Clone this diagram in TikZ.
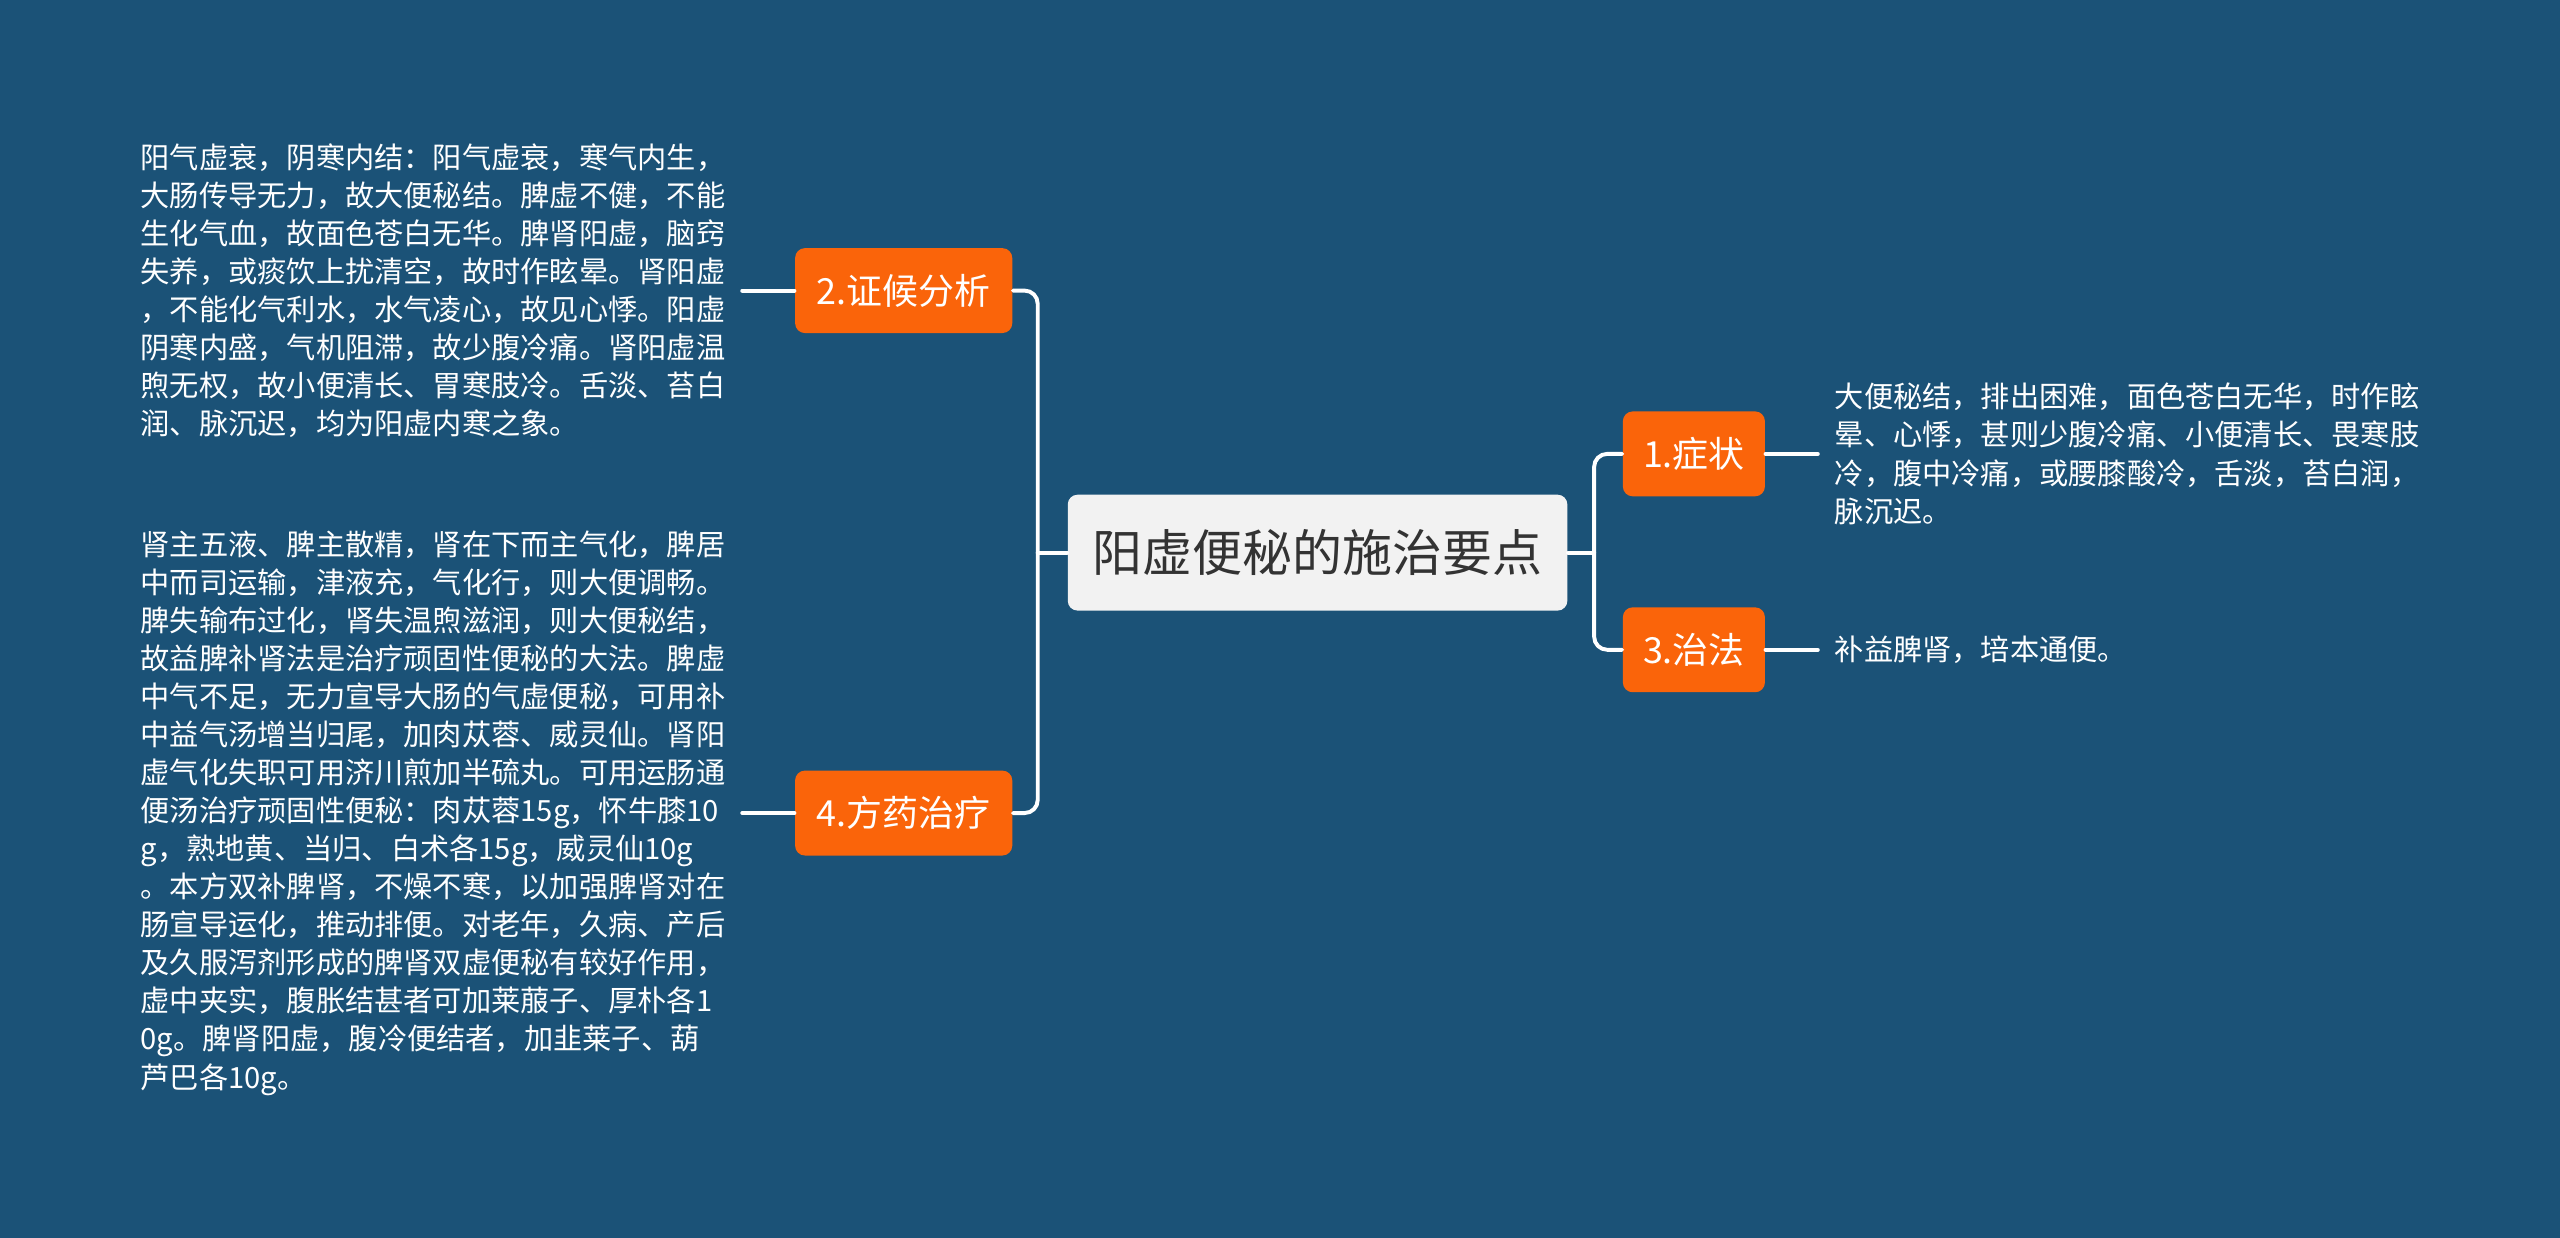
\documentclass[tikz,border=0pt]{standalone}
\usepackage{fontspec}
\setmainfont{Noto Sans CJK SC}
\usetikzlibrary{positioning}

\definecolor{bgblue}{RGB}{27,82,119}
\definecolor{topicorange}{RGB}{250,100,10}
\definecolor{rootgray}{RGB}{242,242,242}
\definecolor{roottext}{RGB}{51,51,51}

\begin{document}
\begin{tikzpicture}[
    x=0.5pt, y=-0.5pt,
    line cap=round,
    line join=round,
    link/.style={draw=white, line width=1.2pt},
    root/.style={fill=rootgray, text=roottext, rounded corners=3pt,
        minimum width=153pt, minimum height=35.5pt, inner sep=0pt,
        font=\fontsize{15.3pt}{18pt}\selectfont},
    topic/.style={fill=topicorange, text=white, rounded corners=3pt,
        minimum height=26pt, inner sep=0pt,
        font=\fontsize{11pt}{13pt}\selectfont},
    detail/.style={text=white, align=left, inner xsep=5pt, inner ysep=0pt,
        font=\fontsize{8.95pt}{11.65pt}\selectfont}
]

% -----------------------
% Parameters
% -----------------------
\def\gapl{18}
\def\gapr{16}

% -----------------------
% Canvas
% -----------------------
\fill[bgblue] (0,0) rectangle (1568,758);
\useasboundingbox (0,0) rectangle (1568,758);

% -----------------------
% Root and topics
% -----------------------
\node[root] (Root) at (807,338.5) {阳虚便秘的施治要点};

\node[topic, minimum width=66.5pt] (T2) at (553.5,178) {2.证候分析};
\node[topic, minimum width=66.5pt] (T4) at (553.5,498) {4.方药治疗};
\node[topic, minimum width=43.5pt] (T1) at (1037.5,278) {1.症状};
\node[topic, minimum width=43.5pt] (T3) at (1037.5,398) {3.治法};

% -----------------------
% Details
% -----------------------
\node[detail, left=16pt of T2] (D2) {%
阳气虚衰，阴寒内结：阳气虚衰，寒气内生，\\%
大肠传导无力，故大便秘结。脾虚不健，不能\\%
生化气血，故面色苍白无华。脾肾阳虚，脑窍\\%
失养，或痰饮上扰清空，故时作眩晕。肾阳虚\\%
，不能化气利水，水气凌心，故见心悸。阳虚\\%
阴寒内盛，气机阻滞，故少腹冷痛。肾阳虚温\\%
煦无权，故小便清长、胃寒肢冷。舌淡、苔白\\%
润、脉沉迟，均为阳虚内寒之象。};

\node[detail, left=16pt of T4] (D4) {%
肾主五液、脾主散精，肾在下而主气化，脾居\\%
中而司运输，津液充，气化行，则大便调畅。\\%
脾失输布过化，肾失温煦滋润，则大便秘结，\\%
故益脾补肾法是治疗顽固性便秘的大法。脾虚\\%
中气不足，无力宣导大肠的气虚便秘，可用补\\%
中益气汤增当归尾，加肉苁蓉、威灵仙。肾阳\\%
虚气化失职可用济川煎加半硫丸。可用运肠通\\%
便汤治疗顽固性便秘：肉苁蓉15g，怀牛膝10\\%
g，熟地黄、当归、白术各15g，威灵仙10g\\%
。本方双补脾肾，不燥不寒，以加强脾肾对在\\%
肠宣导运化，推动排便。对老年，久病、产后\\%
及久服泻剂形成的脾肾双虚便秘有较好作用，\\%
虚中夹实，腹胀结甚者可加莱菔子、厚朴各1\\%
0g。脾肾阳虚，腹冷便结者，加韭莱子、葫\\%
芦巴各10g。};

\node[detail, right=16pt of T1] (D1) {%
大便秘结，排出困难，面色苍白无华，时作眩\\%
晕、心悸，甚则少腹冷痛、小便清长、畏寒肢\\%
冷，腹中冷痛，或腰膝酸冷，舌淡，苔白润，\\%
脉沉迟。};

\node[detail, right=16pt of T3] (D3) {补益脾肾，培本通便。};

% -----------------------
% Connectors
% -----------------------
\draw[link] (Root.west) -- ++(-\gapl,0) coordinate (Ls);
\draw[link, rounded corners=4pt] (Ls) |- (T2.east);
\draw[link, rounded corners=4pt] (Ls) |- (T4.east);

\draw[link] (Root.east) -- ++(\gapr,0) coordinate (Rs);
\draw[link, rounded corners=4pt] (Rs) |- (T1.west);
\draw[link, rounded corners=4pt] (Rs) |- (T3.west);

\draw[link] (T2.west) -- (D2.east);
\draw[link] (T4.west) -- (D4.east);
\draw[link] (T1.east) -- (D1.west);
\draw[link] (T3.east) -- (D3.west);

\end{tikzpicture}
\end{document}
